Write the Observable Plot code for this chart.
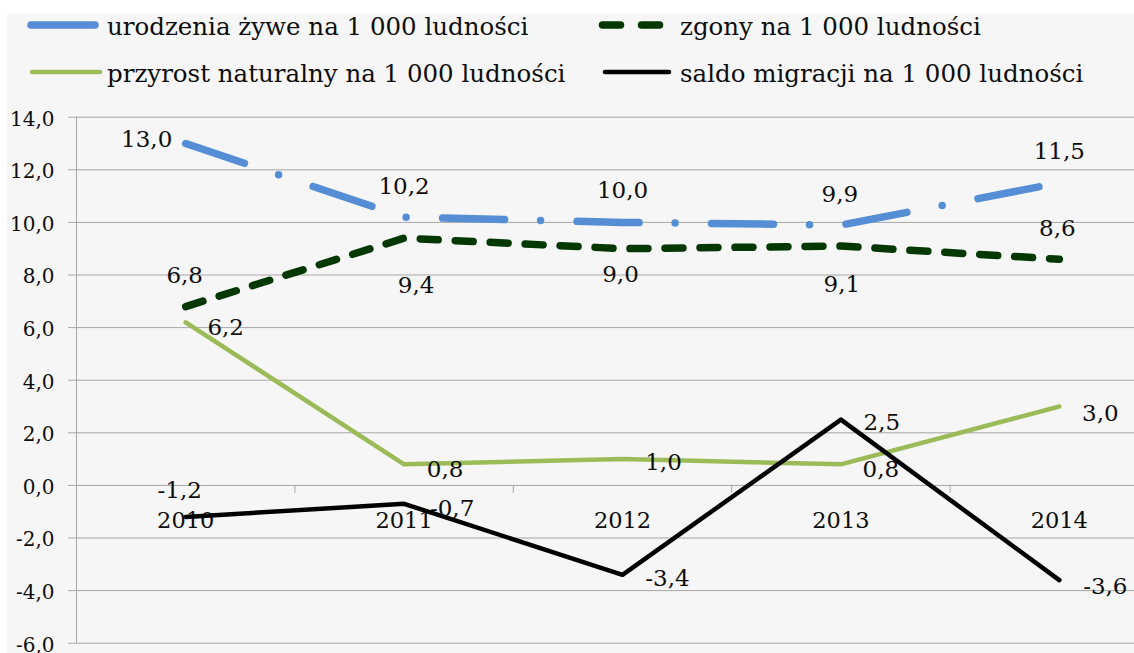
<!DOCTYPE html>
<html><head><meta charset="utf-8">
<script src="https://cdn.jsdelivr.net/npm/d3@7"></script>
<script src="https://cdn.jsdelivr.net/npm/@observablehq/plot@0.6"></script>
<style>
html,body{margin:0;padding:0;background:#fff;overflow:hidden;}
#wrap{position:relative;width:1134px;height:653px;overflow:hidden;}
#bg{position:absolute;left:7px;top:14px;right:0;bottom:0;background:#f6f6f6;}
#chart,#legend{position:absolute;left:0;top:0;}
#chart svg{max-width:none !important;}
</style></head><body>
<div id="wrap"><div id="bg"></div><div id="chart"></div><div id="legend"></div></div>
<script>
// ---- data ----
const years = [2010, 2011, 2012, 2013, 2014];
const urodzenia = [13.0, 10.2, 10.0, 9.9, 11.5];
const zgony = [6.8, 9.4, 9.0, 9.1, 8.6];
const przyrost = [6.2, 0.8, 1.0, 0.8, 3.0];
const saldo = [-1.2, -0.7, -3.4, 2.5, -3.6];
const seriesNames = [
  "urodzenia żywe na 1 000 ludności",
  "zgony na 1 000 ludności",
  "przyrost naturalny na 1 000 ludności",
  "saldo migracji na 1 000 ludności"
];
const yTicks = [-6, -4, -2, 0, 2, 4, 6, 8, 10, 12, 14];

// ---- label placement (pixel nudges from each point) ----
const labelNudge = {
  urodzenia: [[-39,-3.5],[0,-30.6],[0,-32],[-1,-30],[0,-31.5]],
  zgony:     [[-1,-31],[12,47],[-2,26],[1,38.5],[-2,-30.7]],
  przyrost:  [[40,5],[41,5],[41,4],[40,5],[41,7]],
  saldo:     [[-6,-26],[48,4.7],[45,3.7],[41,2.8],[46,6.4]]
};

const FONT = "DejaVu Serif";
const fmt = v => v.toFixed(1).replace(".", ",");
const table = years.map((year, i) => ({year, urodzenia: urodzenia[i], zgony: zgony[i], przyrost: przyrost[i], saldo: saldo[i]}));

const series = [
  {key: "urodzenia", name: seriesNames[0], stroke: "#558ed5", strokeWidth: 7.5, dash: "62,36,0,36.5"},
  {key: "zgony", name: seriesNames[1], stroke: "#033803", strokeWidth: 7.5, dash: "18,17"},
  {key: "przyrost", name: seriesNames[2], stroke: "#9bbb59", strokeWidth: 4.5, dash: null},
  {key: "saldo", name: seriesNames[3], stroke: "#000000", strokeWidth: 4.5, dash: null}
];

const lineMarks = series.map(s => Plot.line(table, {
  x: "year", y: s.key, stroke: s.stroke, strokeWidth: s.strokeWidth,
  strokeLinecap: "round", strokeLinejoin: "round",
  strokeDasharray: s.dash || undefined
}));

const labelMarks = series.flatMap(s => table.map((d, i) => Plot.text([d], {
  x: "year", y: s.key, text: r => fmt(r[s.key]),
  dx: labelNudge[s.key][i][0], dy: labelNudge[s.key][i][1],
  fontSize: 23, fill: "#0d0d0d", textAnchor: "middle"
})));

const boundaries = years.map(y => y + 0.5);

const chart = Plot.plot({
  width: 1168, height: 653,
  marginTop: 116.7, marginBottom: 10.3, marginLeft: 76, marginRight: 0,
  style: {background: "transparent", fontFamily: FONT, overflow: "visible", maxWidth: "none"},
  x: {domain: [2009.5, 2014.5], axis: null},
  y: {domain: [-6, 14], axis: null},
  marks: [
    Plot.ruleY(yTicks, {y: d => d, stroke: "#a6a6a6", strokeWidth: 1, insetLeft: -8}),
    Plot.ruleX([2009.5], {x: d => d, stroke: "#a6a6a6", strokeWidth: 1}),
    Plot.ruleX(boundaries, {x: d => d, y1: d => 0, y2: d => 0, insetBottom: -8, stroke: "#a6a6a6", strokeWidth: 1}),
    Plot.text(yTicks, {y: d => d, frameAnchor: "left", textAnchor: "end", dx: -22, dy: 2, text: d => fmt(d), fontSize: 20, fill: "#0d0d0d"}),
    Plot.text(years, {x: d => d, y: d => 0, dy: 35, text: d => String(d), fontSize: 22.5, fill: "#0d0d0d"}),
    ...lineMarks,
    ...labelMarks
  ]
});
document.getElementById("chart").appendChild(chart);

// ---- legend ----
const leg = d3.select("#legend").append("svg").attr("width", 1134).attr("height", 95)
  .style("font-family", FONT);
const legendItems = [
  {s: series[0], x1: 31, x2: 95, y: 25, tx: 107, ty: 34.7, dash: null},
  {s: series[1], x1: 602.5, x2: 659.5, y: 25, tx: 680, ty: 34.7, dash: "18,21"},
  {s: series[2], x1: 32, x2: 100, y: 72, tx: 107, ty: 81.7, dash: null},
  {s: series[3], x1: 605, x2: 669, y: 72, tx: 680, ty: 81.7, dash: null}
];
legendItems.forEach(it => {
  leg.append("line").attr("x1", it.x1).attr("x2", it.x2).attr("y1", it.y).attr("y2", it.y)
    .attr("stroke", it.s.stroke).attr("stroke-width", it.s.strokeWidth)
    .attr("stroke-linecap", "round").attr("stroke-dasharray", it.dash);
  leg.append("text").attr("x", it.tx).attr("y", it.ty).attr("font-size", 24.5)
    .attr("fill", "#0d0d0d").text(it.s.name);
});
</script>
</body></html>
